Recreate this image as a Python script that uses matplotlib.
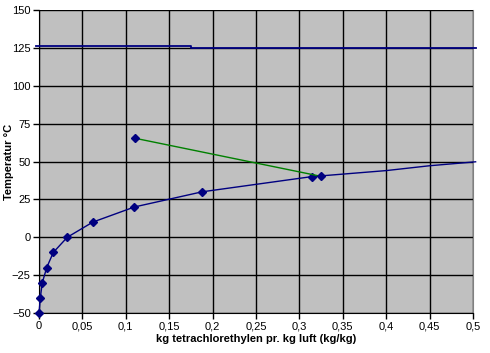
import matplotlib
matplotlib.use("Agg")
import matplotlib.pyplot as plt

plt.rcParams['font.family'] = ['Liberation Sans', 'DejaVu Sans']

# mætningskurve (markerede punkter)
sat_x = [0, 0.0015, 0.0038, 0.0089, 0.0165, 0.0326, 0.062, 0.110, 0.188, 0.314]
sat_t = [-50, -40, -30, -20, -10, 0, 10, 20, 30, 40]
# forlængelse uden markører
tail_x = [0.314, 0.40, 0.45, 0.503]
tail_t = [40, 44, 47.2, 49.8]

# afkøling (grøn)
cool_x = [0.111, 0.325]
cool_t = [65.3, 40.2]

# vandret linje ved 125
top_x = [-0.004, 0.175, 0.175, 0.503]
top_t = [126.2, 126.2, 125, 125]

xticks = [0, 0.05, 0.1, 0.15, 0.2, 0.25, 0.3, 0.35, 0.4, 0.45, 0.5]
xlabels = ["0", "0,05", "0,1", "0,15", "0,2", "0,25", "0,3", "0,35", "0,4", "0,45", "0,5"]
yticks = [-50, -25, 0, 25, 50, 75, 100, 125, 150]

fig = plt.figure(figsize=(4.9, 3.53), dpi=100)
ax = fig.add_axes([39/490, 40/353, 434/490, 303/353])
ax.set_facecolor('#C0C0C0')

navy = '#000080'
ax.plot(sat_x, sat_t, '-', color=navy, lw=1, marker='D', ms=4.5, zorder=3, clip_on=False)
ax.plot(tail_x, tail_t, '-', color=navy, lw=1, zorder=3, clip_on=False)
ax.plot(cool_x, cool_t, '-', color='#008000', lw=1, marker='D', ms=4.5,
        mfc=navy, mec=navy, zorder=3)
ax.plot(top_x, top_t, '-', color=navy, lw=1.3, zorder=3, clip_on=False)

ax.set_xlim(0, 0.5)
ax.set_ylim(-50, 150)
ax.set_xticks(xticks)
ax.set_xticklabels(xlabels)
ax.set_yticks(yticks)
ax.grid(True, color='black', lw=1)
ax.set_axisbelow(True)
ax.tick_params(direction='out', length=4, width=1, labelsize=8, pad=2)

ax.spines['top'].set_visible(False)
ax.spines['right'].set_color('#808080')

ax.set_xlabel("kg tetrachlorethylen pr. kg luft (kg/kg)", fontsize=8, fontweight='bold', labelpad=2)
fig.text(9/490, (353-162)/353, "Temperatur °C", fontsize=8, fontweight='bold',
         rotation=90, ha='center', va='center')

fig.savefig("out.png", dpi=100)
